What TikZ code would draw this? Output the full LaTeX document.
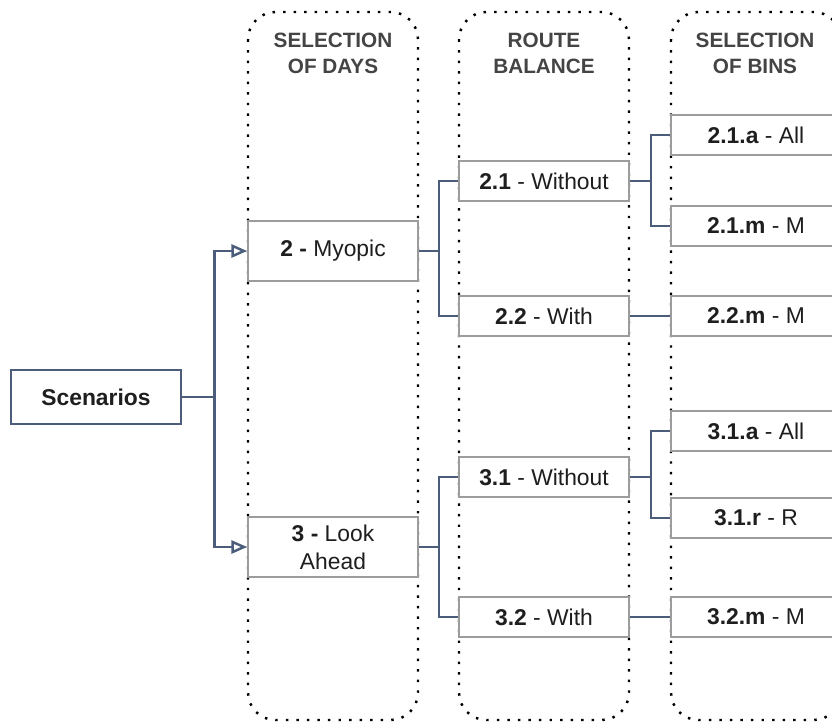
\documentclass[tikz,border=0pt]{standalone}
\usepackage{fontspec}
\setmainfont{Liberation Sans}
\usetikzlibrary{arrows.meta}

\definecolor{linkblue}{HTML}{4B5D7B}
\definecolor{boxgray}{HTML}{9C9C9C}
\definecolor{titlegray}{HTML}{444444}
\definecolor{textdark}{HTML}{1E1E1E}

\tikzset{
  lane/.style={draw=black, line width=1.4pt, dash pattern=on 1.4pt off 4.6pt, rounded corners=0.55cm},
  lanetitle/.style={text=titlegray, font=\fontsize{11.8}{14.8}\selectfont\bfseries, align=center},
  choice/.style={draw=boxgray, line width=1pt, fill=white, text=textdark, minimum width=3.4cm,
    inner sep=0pt, align=center, font=\fontsize{13}{15.8}\selectfont},
  link/.style={draw=linkblue, line width=1.5pt},
  pick/.style={link, -{Triangle[open, length=9pt, width=7.5pt, line width=1.4pt]}}
}

\begin{document}
\begin{tikzpicture}

  \useasboundingbox (0,0) rectangle (16.64,-14.44);
  \clip (0,0) rectangle (16.64,-14.44);

  % dotted lanes
  \draw[lane] (4.96,-0.24) rectangle (8.36,-14.40);
  \draw[lane] (9.18,-0.24) rectangle (12.58,-14.40);
  \draw[lane] (13.42,-0.24) rectangle (16.82,-14.40);

  \node[lanetitle] (t1) at (6.66,-1.06)  {SELECTION\\OF DAYS};
  \node[lanetitle] (t2) at (10.88,-1.06) {ROUTE\\BALANCE};
  \node[lanetitle] (t3) at (15.10,-1.06) {SELECTION\\OF BINS};

  \node[draw=linkblue, line width=1.6pt, fill=white, text=textdark, minimum width=3.4cm,
    minimum height=1.08cm, font=\fontsize{13}{15}\selectfont\bfseries] (scen) at (1.92,-7.94) {Scenarios};

  \begin{scope}[every node/.style={choice, minimum height=1.2cm}]
    \node (myo)  at (6.66,-5.02)  {\textbf{2 -} Myopic};
    \node (look) at (6.66,-10.94) {\textbf{3 -} Look\\Ahead};
  \end{scope}

  \begin{scope}[every node/.style={choice, minimum height=0.8cm}]
    \node (21) at (10.88,-3.62)  {\textbf{2.1} - Without};
    \node (22) at (10.88,-6.32)  {\textbf{2.2} - With};
    \node (31) at (10.88,-9.54)  {\textbf{3.1} - Without};
    \node (32) at (10.88,-12.34) {\textbf{3.2} - With};

    \node (21a) at (15.12,-2.70)  {\textbf{2.1.a} - All};
    \node (21m) at (15.12,-4.52)  {\textbf{2.1.m} - M};
    \node (22m) at (15.12,-6.32)  {\textbf{2.2.m} - M};
    \node (31a) at (15.12,-8.62)  {\textbf{3.1.a} - All};
    \node (31r) at (15.12,-10.36) {\textbf{3.1.r} - R};
    \node (32m) at (15.12,-12.34) {\textbf{3.2.m} - M};
  \end{scope}

  % connectors
  \draw[pick] (scen.east) -- ++(0.64,0) |- (myo.west);
  \draw[pick] (scen.east) -- ++(0.64,0) |- (look.west);

  \draw[link] (myo.east) -- ++(0.4,0) |- (21.west);
  \draw[link] (myo.east) -- ++(0.4,0) |- (22.west);
  \draw[link] (look.east) -- ++(0.4,0) |- (31.west);
  \draw[link] (look.east) -- ++(0.4,0) |- (32.west);

  \draw[link] (21.east) -- ++(0.42,0) |- (21a.west);
  \draw[link] (21.east) -- ++(0.42,0) |- (21m.west);
  \draw[link] (22.east) -- (22m.west);
  \draw[link] (31.east) -- ++(0.42,0) |- (31a.west);
  \draw[link] (31.east) -- ++(0.42,0) |- (31r.west);
  \draw[link] (32.east) -- (32m.west);

\end{tikzpicture}
\end{document}
